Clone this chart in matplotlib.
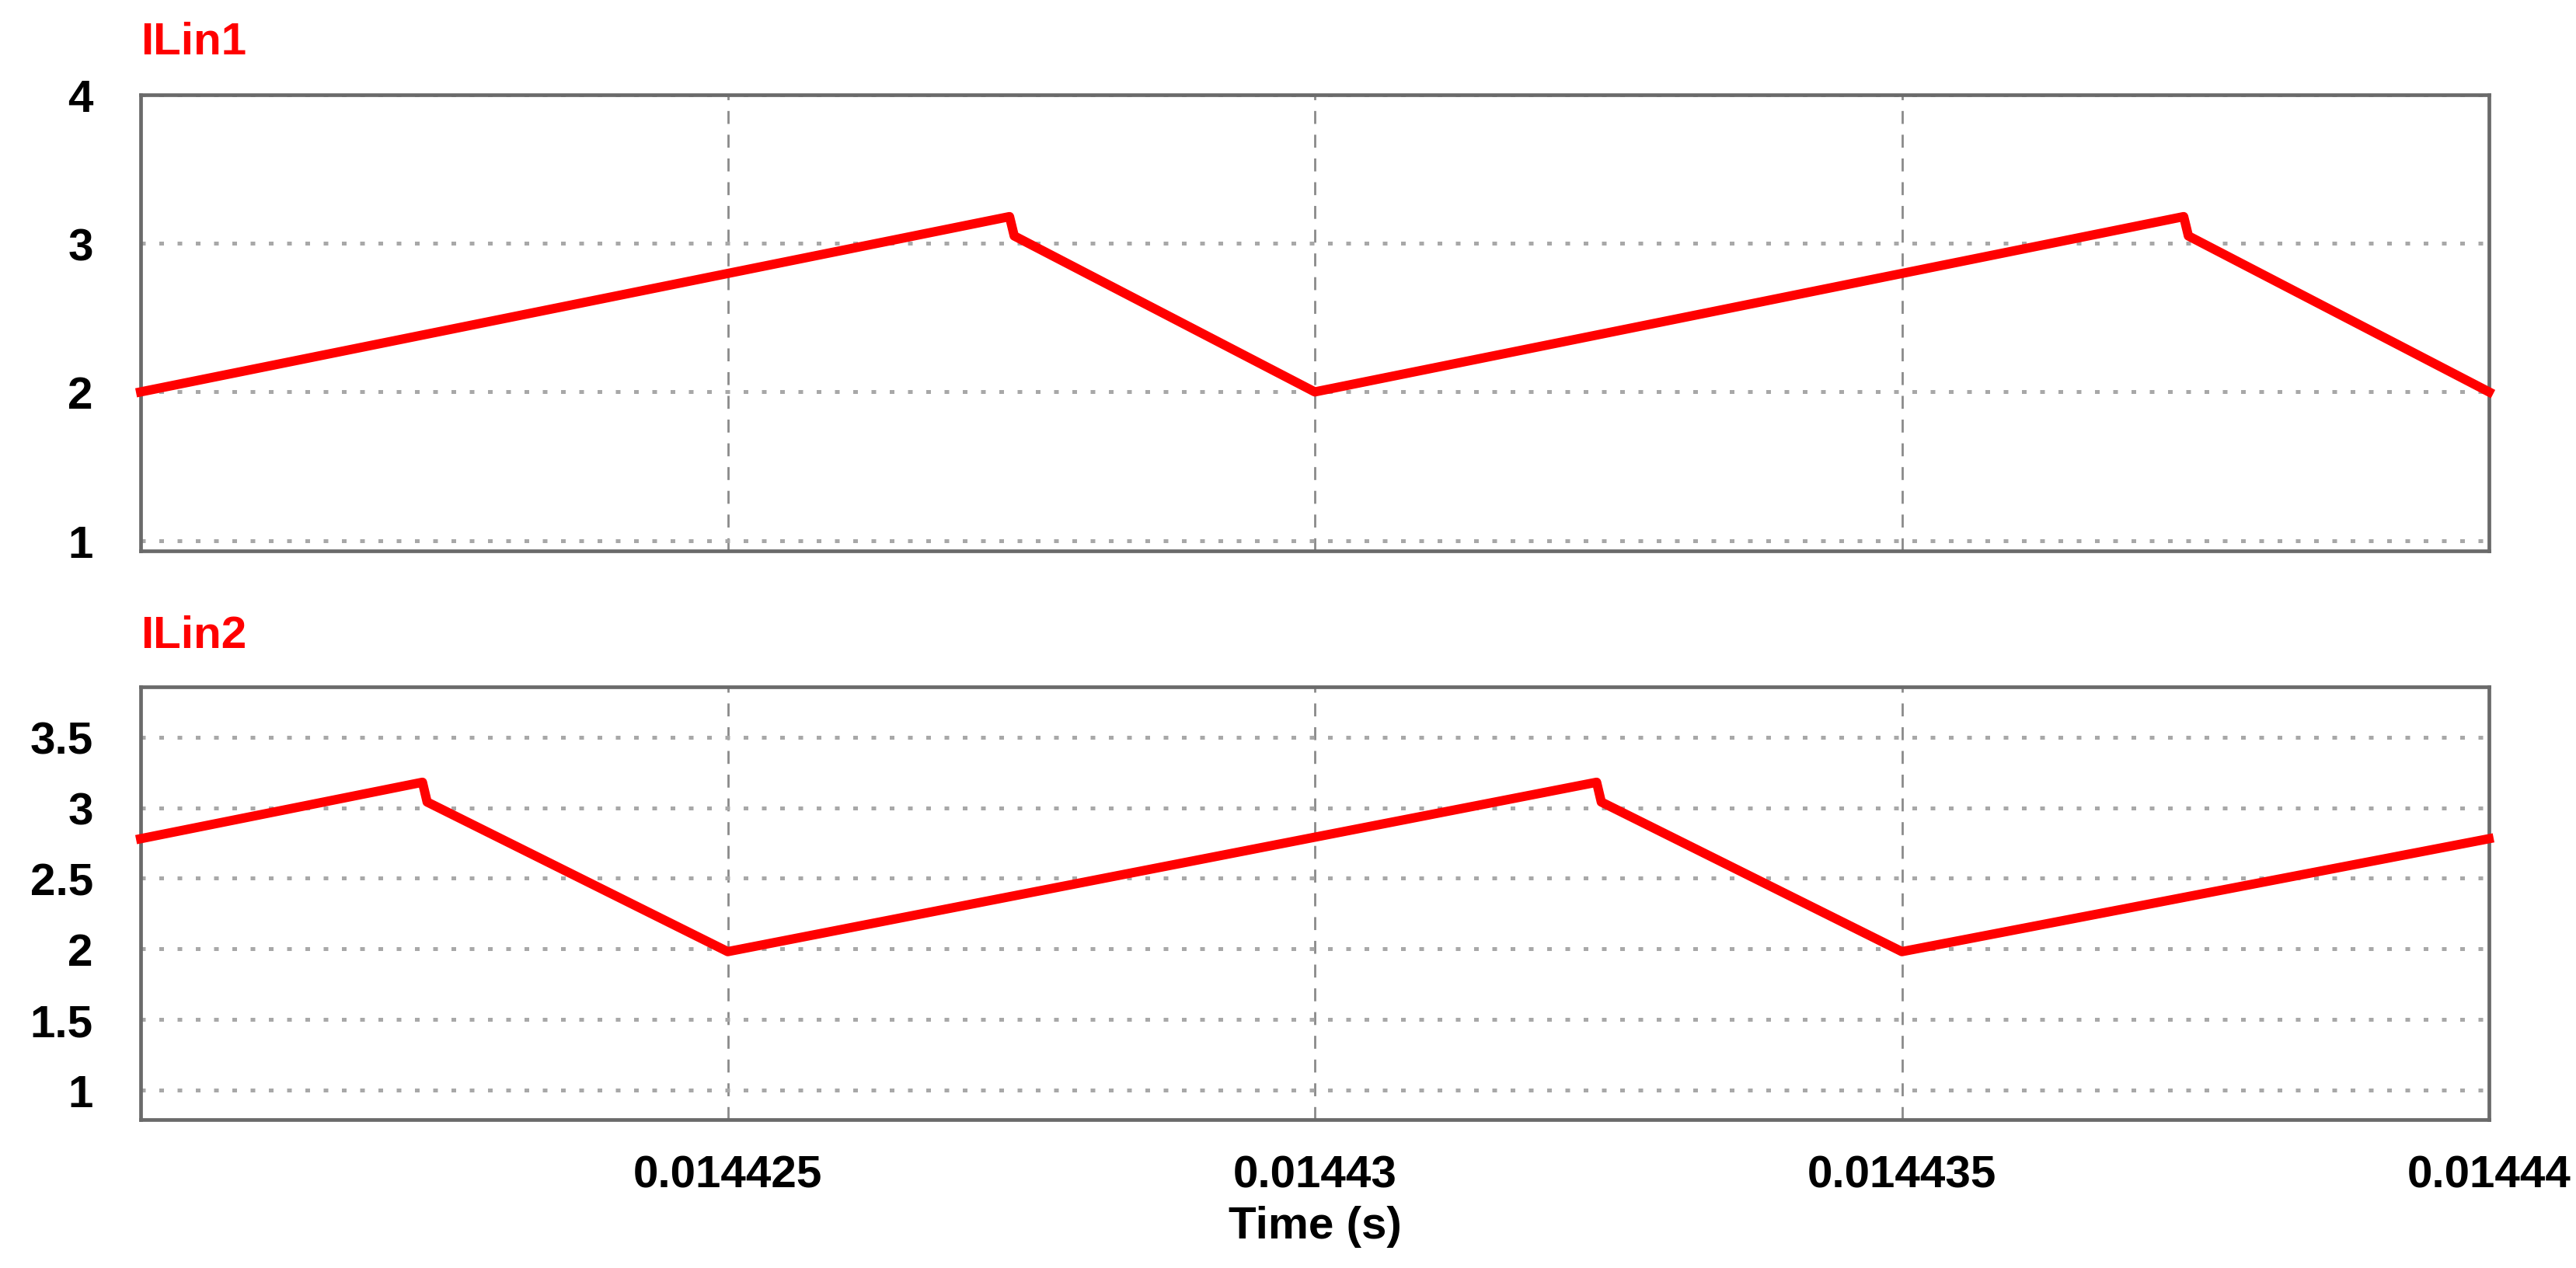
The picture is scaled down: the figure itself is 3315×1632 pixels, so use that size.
import matplotlib
matplotlib.use("Agg")
import matplotlib.pyplot as plt
from matplotlib.ticker import FixedLocator, FixedFormatter

# ---- data ----
t_top = [0.01442, 0.0144274, 0.01442744, 0.01443, 0.0144374, 0.01443744, 0.01444]
ilin1 = [2.0, 3.18, 3.05, 2.0, 3.18, 3.05, 2.0]

t_bot = [0.01442, 0.0144224, 0.01442244, 0.014425, 0.0144324, 0.01443244, 0.014435, 0.01444]
ilin2 = [2.78, 3.18, 3.04, 1.98, 3.18, 3.04, 1.98, 2.78]

x_ticks = [0.014425, 0.01443, 0.014435, 0.01444]
x_tick_labels = ["0.014425", "0.01443", "0.014435", "0.01444"]
y_ticks_top = [1, 2, 3, 4]
y_tick_labels_top = ["1", "2", "3", "4"]
y_ticks_bot = [1, 1.5, 2, 2.5, 3, 3.5]
y_tick_labels_bot = ["1", "1.5", "2", "2.5", "3", "3.5"]

plt.rcParams['font.family'] = ['Liberation Sans', 'DejaVu Sans']

W, H = 3315, 1633
DPI = 200
fig = plt.figure(figsize=(W / DPI, H / DPI), dpi=DPI)

def px_axes(left, top, right, bottom):
    return fig.add_axes([left / W, 1 - bottom / H, (right - left) / W, (bottom - top) / H])

ax1 = px_axes(181, 123, 3203, 710)
ax2 = px_axes(181, 885, 3203, 1442)

def style(ax, yt, ytl, ylim, title):
    ax.set_xlim(0.01442, 0.01444)
    ax.set_ylim(*ylim)
    ax.xaxis.set_major_locator(FixedLocator(x_ticks))
    ax.yaxis.set_major_locator(FixedLocator(yt))
    ax.yaxis.set_major_formatter(FixedFormatter(ytl))
    ax.tick_params(axis='both', length=0, labelsize=21, pad=22)
    for lab in ax.get_yticklabels():
        lab.set_fontweight('bold')
    ax.xaxis.grid(True, color='#8a8a8a', linestyle=(0, (6, 5)), linewidth=1.0)
    ax.yaxis.grid(True, color='#a8a8a8', linestyle=(0, (1.2, 3.5)), linewidth=1.8, dash_capstyle='butt')
    ax.set_axisbelow(True)
    for s in ax.spines.values():
        s.set_color('#6a6a6a')
        s.set_linewidth(1.7)
    ax.text(0.0, 1.07, title, transform=ax.transAxes, color='#ff0000',
            fontsize=21, fontweight='bold', ha='left', va='bottom')

style(ax1, y_ticks_top, y_tick_labels_top, (0.93, 4.0), "ILin1")
style(ax2, y_ticks_bot, y_tick_labels_bot, (0.79, 3.856), "ILin2")

ax1.plot(t_top, ilin1, color='#ff0000', linewidth=4.3, solid_joinstyle='round', zorder=3, clip_on=False)
ax2.plot(t_bot, ilin2, color='#ff0000', linewidth=4.3, solid_joinstyle='round', zorder=3, clip_on=False)

ax1.xaxis.set_major_formatter(FixedFormatter([""] * len(x_ticks)))
ax2.xaxis.set_major_formatter(FixedFormatter(x_tick_labels))
for lab in ax2.get_xticklabels():
    lab.set_fontweight('bold')
ax2.tick_params(axis='x', pad=16)
ax2.set_xlabel("Time (s)", fontsize=21, fontweight='bold', labelpad=4)

fig.savefig("out.png", dpi=DPI, facecolor='white')
